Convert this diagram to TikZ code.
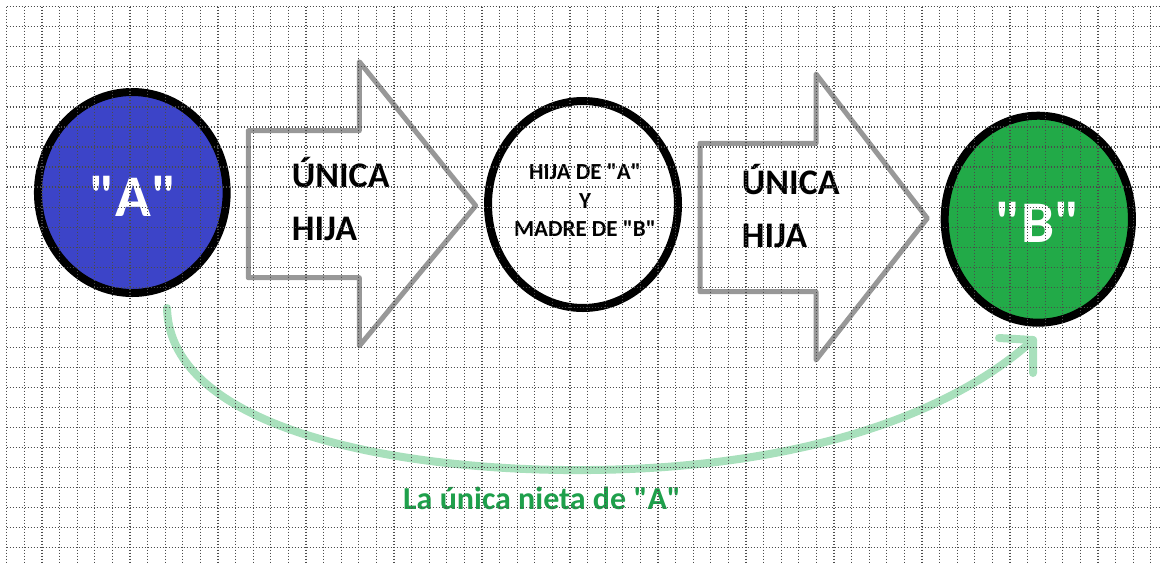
\documentclass[tikz,border=0pt]{standalone}
\usepackage{fontspec}
\setmainfont{Carlito}[Ligatures=TeXOff]
\usetikzlibrary{shapes.geometric}
\definecolor{blueA}{RGB}{60,68,200}
\definecolor{greenB}{RGB}{34,170,72}
\definecolor{arrowgray}{RGB}{152,152,152}
\definecolor{curvegreen}{RGB}{168,224,188}
\definecolor{textgreen}{RGB}{30,160,75}
\definecolor{gridgray}{RGB}{75,75,75}
\tikzset{
  gridline/.style={gridgray, line width=1.2pt, dash pattern=on 1.2pt off 1.8pt},
  bigcircle/.style={ellipse, draw=black, line width=8pt, inner sep=0pt},
  fatarrow/.style={arrowgray, line width=5pt, line join=round},
  arrowtext/.style={font=\bfseries\fontsize{36}{53}\selectfont, align=left, anchor=base west, inner sep=0pt},
  circletext/.style={font=\bfseries\fontsize{59}{60}\selectfont, white, anchor=base, inner sep=0pt},
  nieta/.style={curvegreen, line width=8pt, line cap=round, line join=round},
}
\begin{document}
\begin{tikzpicture}[x=1pt,y=-1pt]
\useasboundingbox (0,0) rectangle (1161,563);
\fill[white] (0,0) rectangle (1161,563);
% circles
\node[bigcircle, fill=blueA, minimum width=188.7pt, minimum height=201pt] (A) at (132.3,192.5) {};
\node[bigcircle, fill=white, minimum width=190pt, minimum height=207pt] (M) at (583,204.5) {};
\node[bigcircle, fill=greenB, minimum width=187.3pt, minimum height=207pt] (B) at (1038.3,219.2) {};
\node[circletext] (tA) at (133.5,216) {"A"};
\node[circletext] (tB) at (1038.3,242.7) {"B"};
\node[font=\bfseries\fontsize{23}{28.6}\selectfont, align=center, inner sep=0pt] (tM) at (585,200.5) {HIJA DE "A"\\Y\hspace*{22pt}\\MADRE DE "B"};
% big arrows
\draw[fatarrow] (248.3,130.7) -- (359.3,130.7) -- (359.3,61.7) -- (475.7,205.7) -- (359.3,346) -- (359.3,277.7) -- (248.3,277.7) -- cycle;
\draw[fatarrow] (700,143.3) -- (816,143.3) -- (816,74) -- (927.3,218.3) -- (816,360) -- (816,291.7) -- (700,291.7) -- cycle;
\node[arrowtext] (t1) at (291.7,240) {ÚNICA\\HIJA};
\node[arrowtext] (t2) at (741.7,247.3) {ÚNICA\\HIJA};
% curved green arrow
\coordinate (cs) at (167,308);
\coordinate (ce) at (1033,340);
\coordinate (h1) at (999,338);
\coordinate (h2) at (1033,373);
\draw[nieta] (cs) .. controls (170,430) and (400,472) .. (590,470) .. controls (800,468) and (950,415) .. (ce);
\draw[nieta] (h1) -- (ce) -- (h2);
\node[font=\bfseries\fontsize{32}{36}\selectfont, textgreen, anchor=base west, inner sep=0pt] (tN) at (403,509) {La única nieta de "A"};
% grid on top
\foreach \i in {0,...,65} \draw[gridline] ({6.7+17.6*\i},6.7) -- ({6.7+17.6*\i},563);
\foreach \j in {0,...,27} \draw[gridline] (6.7,{6.7+20.04*\j}) -- (1161,{6.7+20.04*\j});
\end{tikzpicture}
\end{document}
